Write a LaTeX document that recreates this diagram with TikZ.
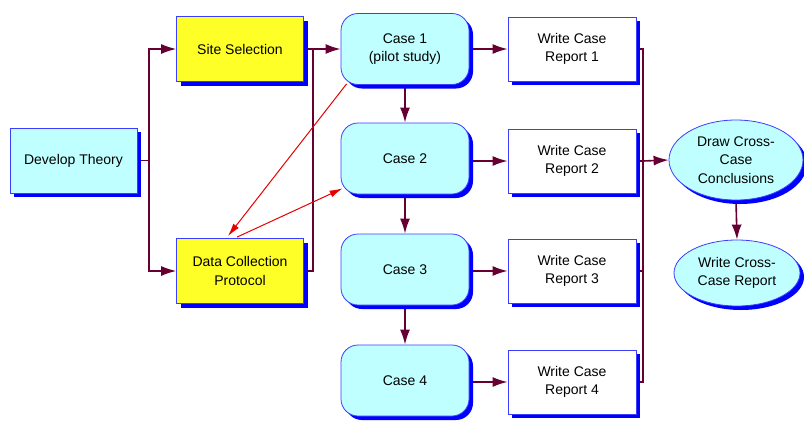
\documentclass[tikz,border=0pt]{standalone}
\usepackage{fontspec}
\setmainfont{Liberation Sans}
\usetikzlibrary{shapes.geometric,shadows,arrows.meta,calc,backgrounds}
\definecolor{cfill}{RGB}{192,255,255}
\definecolor{yfill}{RGB}{255,255,40}
\definecolor{bord}{RGB}{60,60,255}
\definecolor{shad}{RGB}{0,0,255}
\definecolor{mar}{RGB}{102,0,51}
\definecolor{rd}{RGB}{230,0,0}
\tikzset{
 base/.style={draw=bord, line width=0.8pt, align=center, inner sep=0pt,
   font=\fontsize{14}{18.5}\selectfont, text=black,
   drop shadow={opacity=1, fill=shad, shadow xshift=4pt, shadow yshift=-4pt}},
 box/.style={base, rectangle, minimum width=127pt, minimum height=65pt},
 cyanbox/.style={box, fill=cfill},
 yelbox/.style={box, fill=yfill},
 whitebox/.style={box, fill=white, minimum width=128pt, minimum height=64pt},
 casebox/.style={base, rectangle, rounded corners=17pt, fill=cfill, minimum width=128pt, minimum height=71pt},
 ell/.style={base, ellipse, fill=cfill},
 conn/.style={draw=mar, line width=1.6pt},
 arr/.style={conn, -{Latex[length=15pt,width=10pt]}},
 redarr/.style={draw=rd, line width=1pt, -{Latex[length=13pt,width=7pt]}},
}
\begin{document}
\begin{tikzpicture}[x=1pt,y=-1pt]
\useasboundingbox (0,0) rectangle (804,421);
\node[cyanbox] (dt) at (73.5,160.5) {Develop Theory};
\node[yelbox] (ss) at (240,49) {Site Selection};
\node[yelbox] (dc) at (240,271) {Data Collection\\Protocol};
\node[casebox] (c1) at (405,49) {Case 1\\(pilot study)};
\node[casebox] (c2) at (405,158.5) {Case 2};
\node[casebox] (c3) at (405,269.5) {Case 3};
\node[casebox] (c4) at (405,380.5) {Case 4};
\node[whitebox] (r1) at (572,49) {Write Case\\Report 1};
\node[whitebox] (r2) at (572,161) {Write Case\\Report 2};
\node[whitebox] (r3) at (572,271) {Write Case\\Report 3};
\node[whitebox] (r4) at (572,382) {Write Case\\Report 4};
\node[ell, minimum width=134pt, minimum height=80pt] (e1) at (736,160) {Draw Cross-\\Case\\Conclusions};
\node[ell, minimum width=126pt, minimum height=66pt] (e2) at (737,273) {Write Cross-\\Case Report};
\coordinate (j1) at (149,160.5);
\coordinate (j2) at (313,49);
\coordinate (j3) at (643,161);
\begin{pgfonlayer}{background}
\draw[conn, line width=1.2pt] (dt.east) -- (j1);
\draw[arr, line width=1.2pt] (j1) |- (ss.west);
\draw[arr, line width=1.2pt] (j1) |- (dc.west);
\draw[conn, line width=1.2pt] (dc.east) -| (j2);
\draw[arr] (ss.east) -- (c1.west);
\draw[arr] (c1.east) -- (r1.west);
\draw[arr] (c2.east |- r2.west) -- (r2.west);
\draw[arr] (c3.east |- r3.west) -- (r3.west);
\draw[arr] (c4.east |- r4.west) -- (r4.west);
\draw[arr] (c1.south) -- (c2.north);
\draw[arr] (c2.south) -- (c3.north);
\draw[arr] (c3.south) -- (c4.north);
\draw[conn] (r1.east) -| (j3);
\draw[conn] (r4.east) -| (j3);
\draw[conn] (r2.east) -- (j3);
\draw[conn] (r3.east) -- (r3.east -| j3);
\draw[arr] (j3) -- (e1.west);
\draw[arr] (e1.south) -- (e2.north);
\draw[redarr] ($(c1.south west)+(6,-1)$) -- ($(dc.north)+(-12,-2)$);
\draw[redarr] ($(dc.north)+(-3,-1)$) -- ($(c2.south west)+(2,-6)$);
\end{pgfonlayer}
\end{tikzpicture}
\end{document}
